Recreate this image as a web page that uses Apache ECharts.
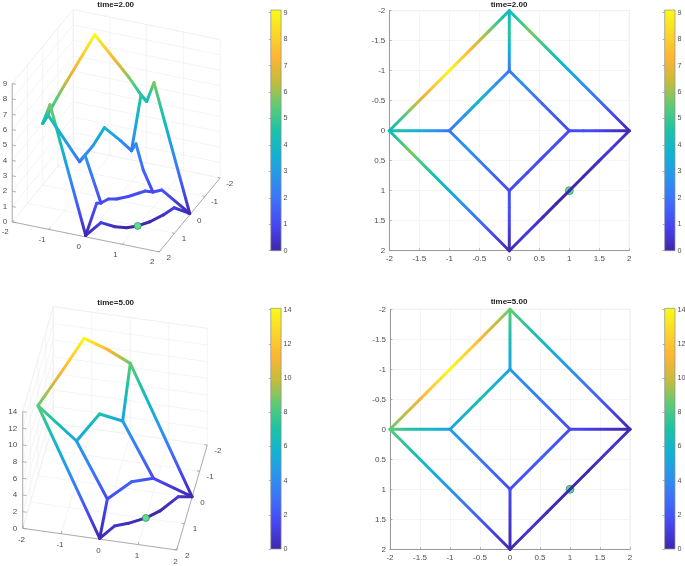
<!DOCTYPE html>
<html><head><meta charset="utf-8">
<style>html,body{margin:0;padding:0;background:#fff}#c{width:685px;height:566px}</style>
<script src="https://cdn.jsdelivr.net/npm/echarts@6/dist/echarts.min.js"></script>
</head><body><div id="c"></div>
<script>
// ---------- data ----------
const titles = ['time=2.00', 'time=5.00'];
const colorMax = [9.1, 14.08];
const zTicks = [[0,1,2,3,4,5,6,7,8,9], [0,2,4,6,8,10,12,14]];
const zTop = [9, 14];
const boxTicks = [-2,-1,0,1,2];
const markerXY = [1, 1];
const markerZ = [0.0, 0.04];
// each edge of the network: its two end nodes
const edgeEnds = [
  [[-2,0],[0,-2]], [[0,-2],[2,0]], [[-2,0],[0,2]], [[0,2],[2,0]],
  [[-1,0],[0,-1]], [[0,-1],[1,0]], [[-1,0],[0,1]], [[0,1],[1,0]],
  [[-2,0],[-1,0]], [[0,-1],[0,-2]], [[0,1],[0,2]], [[1,0],[2,0]]
];
// time=2: position along edge, value at that position
const t2Pos = [
  [0,.17,.5,.83,.945,1], [0,.17,1], [0,.17,1], [0,.147,.282,.394,.5,.618,.746,.85,1],
  [0,.26,.48,.79,1], [0,.21,.55,1], [0,.26,1], [0,.142,.3,.526,.72,.847,1],
  [0,.152,1], [0,.626,1], [0,.28,1], [0,.238,1]
];
const t2Val = [
  [4.0,5.8,9.05,5.8,4.5,4.0], [4.0,5.8,0.1], [4.0,5.8,0.1], [0.1,.72,.26,.03,0,.1,.36,.68,.1],
  [2.0,2.85,3.87,2.8,2.0], [2.0,2.8,1.67,1.0], [2.0,2.86,1.0], [1.0,1.16,1.05,1.05,1.12,1.17,1.0],
  [4.0,4.6,2.0], [2.0,4.87,4.0], [1.0,1.32,0.1], [1.0,1.25,0.1]
];
// time=5
const t5Pos = [
  [0,.25,.5,.75,1], [0,1], [0,1], [0,.159,.31,.509,.653,.852,1],
  [0,.5,1], [0,1], [0,1], [0,.527,1],
  [0,1], [0,1], [0,1], [0,1]
];
const t5Val = [
  [8.42,11.15,14.0,11.43,8.5], [8.5,0.1], [8.42,0.1], [0.1,.78,.35,.04,.12,.84,.1],
  [4.83,6.82,4.73], [4.73,1.65], [4.83,1.67], [1.67,2.43,1.65],
  [8.42,4.83], [4.73,8.5], [1.67,0.1], [1.65,0.1]
];
// colour map
const parula = ['#3e26a8','#4743f0','#3f6cfb','#2b92ee','#12b2d2','#1cc2a6','#5ccb76','#c5bc3c','#fdb435','#fbd62a','#f9fb15'];
// 3D views (orthographic, pixel units per data unit)
const views = [
  {o:[116.2,199.9], ex:[36.75,7.5], ey:[-15.25,18.5], ez:[0,-15.37],
   xOff:[-7,10], yOff:[9.5,5.5], zOff:-5, title:[115.7,5]},
  {o:[115,486.65], ex:[38.5,5.42], ey:[-7.65,26.25], ez:[0,-8.33],
   xOff:[-1.2,11.5], yOff:[10.5,5.5], zOff:-5.5, title:[115.7,302.7]}
];
// layout of 2D plots and colour bars
const plots2D = [{left:389.3,top:10.7,size:240,title:[509,5]},{left:390,top:309.3,size:240,title:[509,302]}];
const bars = [
  {left:270.8,top:10,height:240.7,i:0},{left:270.8,top:308.3,height:240.7,i:1},
  {left:664.7,top:10,height:240.7,i:0},{left:664.7,top:308.3,height:240.7,i:1}
];
// ---------- helpers ----------
const FONT = '"Liberation Sans",Arial,sans-serif', TXT='#4d4d4d';
function hex(c){return [1,3,5].map(i=>parseInt(c.substr(i,2),16));}
function colorAt(f){
  f=Math.max(0,Math.min(1,f))*(parula.length-1);
  const i=Math.min(Math.floor(f),parula.length-2), u=f-i, a=hex(parula[i]), b=hex(parula[i+1]);
  return 'rgb('+a.map((v,k)=>Math.round(v+(b[k]-v)*u)).join(',')+')';
}
function project(v,x,y,z){return [v.o[0]+v.ex[0]*x+v.ey[0]*y+v.ez[0]*z, v.o[1]+v.ex[1]*x+v.ey[1]*y+v.ez[1]*z];}
function edgeSegments(pos,val,toXY){
  const rows=[];
  edgeEnds.forEach((e,k)=>{
    for(let j=0;j<pos[k].length-1;j++){
      const pt=t=>[e[0][0]+(e[1][0]-e[0][0])*t, e[0][1]+(e[1][1]-e[0][1])*t];
      const a=pt(pos[k][j]), b=pt(pos[k][j+1]);
      const pa=toXY(a[0],a[1],val[k][j]), pb=toXY(b[0],b[1],val[k][j+1]);
      rows.push([pa[0],pa[1],val[k][j],pb[0],pb[1],val[k][j+1]]);
    }
  });
  return rows;
}
function edgeSeries(rows,maxV,xi,yi,z){
  return {type:'custom',coordinateSystem:'cartesian2d',xAxisIndex:xi,yAxisIndex:yi,z:z,silent:true,clip:false,
    data:rows,
    renderItem(p,api){
      const A=api.coord([api.value(0),api.value(1)]),B=api.coord([api.value(3),api.value(4)]);
      const z1=api.value(2),z2=api.value(5),stops=[];
      for(let s=0;s<=12;s++){stops.push({offset:s/12,color:colorAt((z1+(z2-z1)*s/12)/maxV)});}
      return {type:'line',shape:{x1:A[0],y1:A[1],x2:B[0],y2:B[1]},
        style:{fill:null,lineWidth:3,lineCap:'round',
          stroke:new echarts.graphic.LinearGradient(A[0],A[1],B[0],B[1],stops,true)}};
    }};
}
function plainLines(rows,color,width,xi,yi,z){
  return {type:'custom',coordinateSystem:'cartesian2d',xAxisIndex:xi,yAxisIndex:yi,z:z,silent:true,clip:false,
    data:rows,
    renderItem(p,api){
      const A=api.coord([api.value(0),api.value(1)]),B=api.coord([api.value(2),api.value(3)]);
      return {type:'line',shape:{x1:A[0],y1:A[1],x2:B[0],y2:B[1]},style:{stroke:color,lineWidth:width,fill:null}};
    }};
}
function textSeries(items,xi,yi,z){
  return {type:'custom',coordinateSystem:'cartesian2d',xAxisIndex:xi,yAxisIndex:yi,z:z,silent:true,clip:false,
    data:items.map(t=>[t.x,t.y]),
    renderItem(p,api){
      const it=items[p.dataIndex],c=api.coord([api.value(0),api.value(1)]);
      return {type:'text',x:c[0],y:c[1],style:{text:it.text,fontFamily:FONT,fontSize:it.size||8,
        fontWeight:it.bold?'bold':'normal',fill:it.bold?'#222':TXT,align:it.align||'center',verticalAlign:'middle'}};
    }};
}
function markerSeries(pt,xi,yi,z,size){
  return {type:'scatter',xAxisIndex:xi,yAxisIndex:yi,z:z,silent:true,clip:false,symbol:'circle',symbolSize:size,
    data:[pt],itemStyle:{color:'#5fdf8e',borderColor:'#2f7f74',borderWidth:0.7,opacity:1}};
}
// ---------- option ----------
const grid=[],xAxis=[],yAxis=[],series=[];
// full-page hidden pixel scale for the two 3D views
grid.push({left:0,top:0,width:685,height:566,outerBoundsMode:'none'});
xAxis.push({type:'value',gridIndex:0,min:0,max:685,show:false});
yAxis.push({type:'value',gridIndex:0,min:0,max:566,inverse:true,show:false});
views.forEach((v,i)=>{
  const P=(x,y,z)=>project(v,x,y,z), top=zTop[i], g=[], ax=[], t=[];
  const seg=(a,b)=>[a[0],a[1],b[0],b[1]];
  boxTicks.forEach(k=>{
    g.push(seg(P(k,-2,0),P(k,-2,top)));            // back wall y=-2, verticals
    g.push(seg(P(-2,k,0),P(-2,k,top)));            // wall x=-2, verticals
    g.push(seg(P(k,-2,0),P(k,2,0)));               // floor
    g.push(seg(P(-2,k,0),P(2,k,0)));
  });
  zTicks[i].concat(zTop[i]).forEach(z=>{
    g.push(seg(P(-2,-2,z),P(2,-2,z)));
    g.push(seg(P(-2,-2,z),P(-2,2,z)));
  });
  ax.push(seg(P(-2,2,0),P(2,2,0)), seg(P(2,2,0),P(2,-2,0)), seg(P(-2,2,0),P(-2,2,top)));
  boxTicks.forEach(k=>{
    const a=P(k,2,0),b=P(k,1.9,0); ax.push(seg(a,b));
    const c=P(2,k,0),d=P(1.93,k,0); ax.push(seg(c,d));
    const q=P(k,2,0),w=P(2,k,0);
    t.push({x:q[0]+v.xOff[0],y:q[1]+v.xOff[1],text:String(k)});
    t.push({x:w[0]+v.yOff[0],y:w[1]+v.yOff[1],text:String(k)});
  });
  zTicks[i].forEach(z=>{
    const a=P(-2,2,z),b=P(-1.9,2,z); ax.push(seg(a,b));
    t.push({x:a[0]+v.zOff,y:a[1],text:String(z),align:'right'});
  });
  t.push({x:v.title[0],y:v.title[1],text:titles[i],bold:true});
  series.push(plainLines(g,'#efefef',0.7,0,0,1));
  series.push(plainLines(ax,'#9a9a9a',0.8,0,0,2));
  series.push(textSeries(t,0,0,3));
  series.push(edgeSeries(edgeSegments(i?t5Pos:t2Pos,i?t5Val:t2Val,P),colorMax[i],0,0,4));
  series.push(markerSeries(P(markerXY[0],markerXY[1],markerZ[i]),0,0,5,7));
});
// 2D views
plots2D.forEach((p,i)=>{
  const gi=grid.length;
  grid.push({left:p.left,top:p.top,width:p.size,height:p.size,show:true,borderColor:'#e8e8e8',borderWidth:0.7,backgroundColor:'#fff',outerBoundsMode:'none'});
  const mk=(extra)=>Object.assign({type:'value',gridIndex:gi,min:-2,max:2,interval:0.5,
    axisLine:{show:true,onZero:false,lineStyle:{color:'#9a9a9a',width:1}},
    axisTick:{show:true,inside:true,length:2.4,lineStyle:{color:'#9a9a9a',width:0.7}},
    splitLine:{show:true,lineStyle:{color:'#f0f0f0',width:0.7}},
    axisLabel:{show:true,fontFamily:FONT,fontSize:8,color:TXT,margin:4,hideOverlap:false,showMinLabel:true,showMaxLabel:true,
      formatter:v=>String(v)}},extra);
  xAxis.push(mk({position:'bottom'}));
  yAxis.push(mk({position:'left',inverse:true}));
  series.push(markerSeries(markerXY,gi,gi,3,8));
  series.push(edgeSeries(edgeSegments(i?t5Pos:t2Pos,i?t5Val:t2Val,(x,y)=>[x,y]),colorMax[i],gi,gi,4));
  series.push(textSeries([{x:(-2+(p.title[0]-p.left)/p.size*4),y:-2-(p.top-p.title[1])/p.size*4,text:titles[i],bold:true}],gi,gi,5));
});
// colour bars
bars.forEach(b=>{
  const gi=grid.length,maxV=colorMax[b.i];
  grid.push({left:b.left,top:b.top,width:10.3,height:b.height,outerBoundsMode:'none'});
  xAxis.push({type:'value',gridIndex:gi,min:0,max:1,show:false});
  yAxis.push({type:'value',gridIndex:gi,min:0,max:maxV,position:'right',
    axisLine:{show:false},splitLine:{show:false},
    axisTick:{show:true,inside:true,length:2,customValues:zTicks[b.i],lineStyle:{color:'#777',width:0.6}},
    axisLabel:{show:true,fontFamily:FONT,fontSize:7.2,color:TXT,margin:2.5,customValues:zTicks[b.i],formatter:v=>String(v)}});
  const stops=[];for(let s=0;s<=40;s++){stops.push({offset:s/40,color:colorAt(1-s/40)});}
  series.push({type:'custom',coordinateSystem:'cartesian2d',xAxisIndex:gi,yAxisIndex:gi,silent:true,z:2,clip:false,
    data:[[0,maxV,1,0]],
    renderItem(p,api){
      const A=api.coord([api.value(0),api.value(1)]),B=api.coord([api.value(2),api.value(3)]);
      return {type:'rect',shape:{x:A[0],y:A[1],width:B[0]-A[0],height:B[1]-A[1]},
        style:{stroke:'#8f8f8f',lineWidth:0.7,fill:new echarts.graphic.LinearGradient(0,0,0,1,stops)}};
    }});
});
const chart=echarts.init(document.getElementById('c'),null,{renderer:'canvas',width:685,height:566});
chart.setOption({animation:false,backgroundColor:'#fff',grid,xAxis,yAxis,series});
</script></body></html>
